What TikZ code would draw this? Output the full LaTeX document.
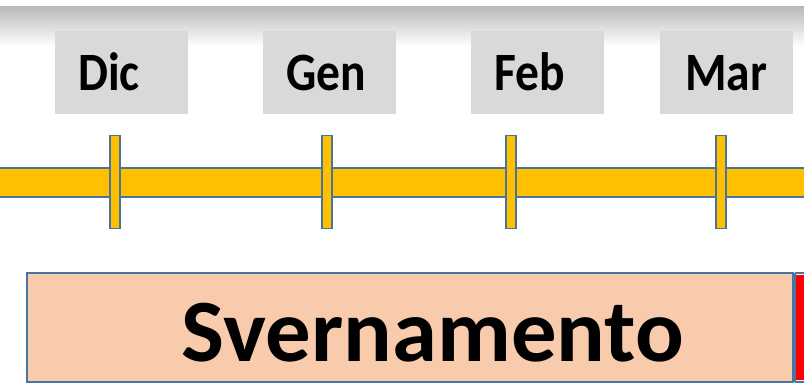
\documentclass[tikz,border=0pt]{standalone}
\usepackage{fontspec}
\setmainfont{Carlito}
\definecolor{tlgold}{HTML}{FFC000}
\definecolor{tlblue}{HTML}{4A74A0}
\definecolor{monthgray}{HTML}{D9D9D9}
\definecolor{peach}{HTML}{F8CBAD}
\tikzset{
  month/.style={fill=monthgray, draw=none, minimum width=133pt, minimum height=83pt, inner sep=0pt},
  monthtext/.style={anchor=base, inner sep=0pt, xscale=0.88, font=\bfseries\fontsize{54}{54}\selectfont},
  tick/.style={fill=tlgold, draw=tlblue, line width=1.8pt, minimum width=10pt, minimum height=93pt, inner sep=0pt},
  bar/.style={fill=tlgold, draw=tlblue, line width=1.6pt},
  phase/.style={fill=peach, draw=tlblue, line width=2pt},
}
\begin{document}
\begin{tikzpicture}[x=1pt,y=-1pt]
\useasboundingbox (0,0) rectangle (804,384);
\fill[white] (0,0) rectangle (804,384);
% top shadow
\shade[top color=black!28, bottom color=white] (0,6) rectangle (804,46);
\fill[white] (0,0) rectangle (804,6);
% month labels
\node[month] (dic) at (121,72) {};
\node[month] (gen) at (329,72) {};
\node[month] (feb) at (537,72) {};
\node[month] (mar) at (726,72) {};
\node[monthtext] (dict) at (109,90) {Dic};
\node[monthtext] (gent) at (326,90) {Gen};
\node[monthtext] (febt) at (530,90) {Feb};
\node[monthtext] (mart) at (726,90) {Mar};
% timeline bar
\path[bar] (-2,168) rectangle (806,197);
\node[tick] (t1) at (115,182) {};
\node[tick] (t2) at (327,182) {};
\node[tick] (t3) at (511,182) {};
\node[tick] (t4) at (721,182) {};
% phase box
\path[phase] (27,273) rectangle (793,382);
\fill[red] (796,275) rectangle (806,380);
\draw[tlblue, line width=2pt] (795,273) -- (806,273) (795,382) -- (806,382) (795,273) -- (795,382);
\node[anchor=base, inner sep=0pt, text depth=0pt, xscale=1.02, font=\bfseries\fontsize{89}{89}\selectfont] (sv) at (433,361) {Svernamento};
\end{tikzpicture}
\end{document}
